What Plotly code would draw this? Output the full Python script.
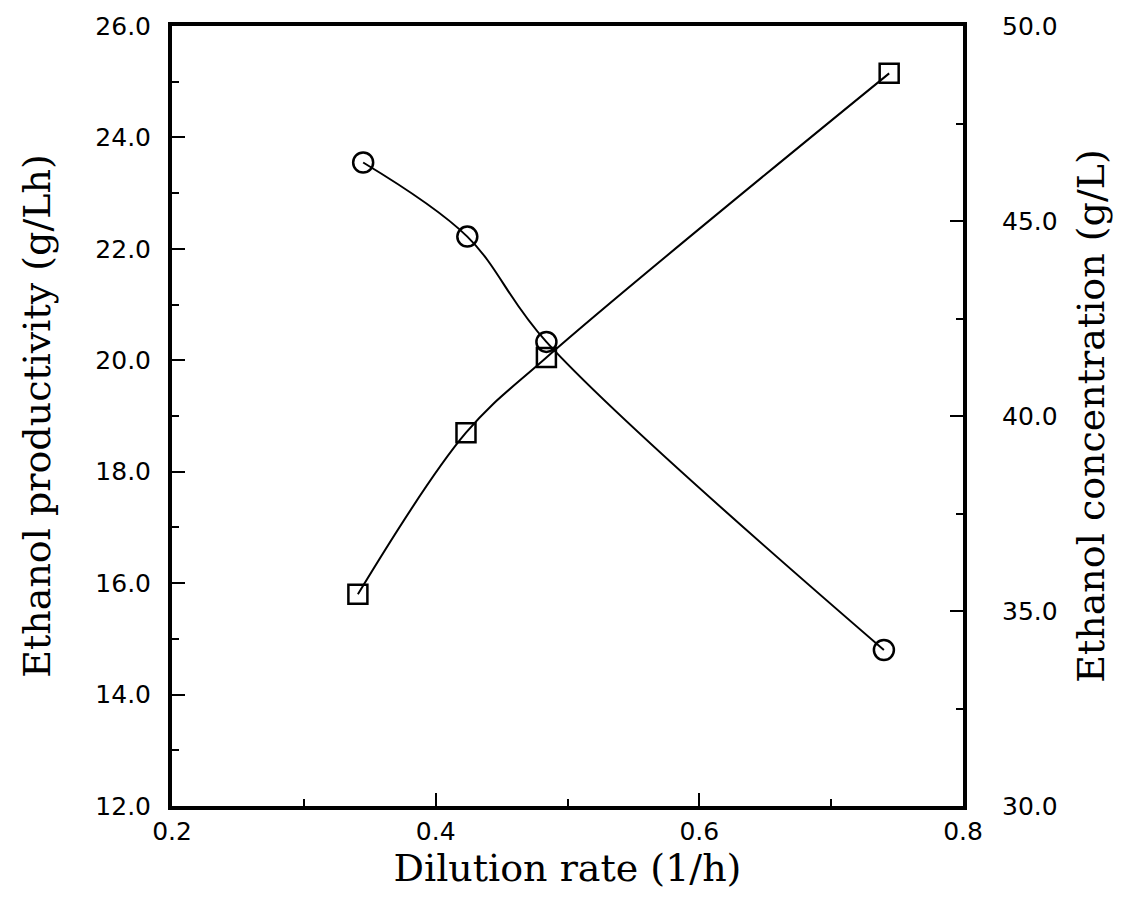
import plotly.graph_objects as go

# Data
dilution_prod = [0.341, 0.423, 0.484, 0.744]
productivity = [15.8, 18.7, 20.05, 25.15]          # g/Lh, left axis, squares

dilution_conc = [0.345, 0.424, 0.484, 0.740]
concentration = [46.5, 44.6, 41.9, 34.0]          # g/L, right axis, circles

x_ticks = [0.2, 0.4, 0.6, 0.8]
y_ticks = [12, 14, 16, 18, 20, 22, 24, 26]
y2_ticks = [30, 35, 40, 45, 50]

TICK_FONT = dict(family="DejaVu Sans", size=25, color="black")
TITLE_FONT = dict(family="DejaVu Serif", size=38, color="black")

fig = go.Figure()
fig.add_trace(go.Scatter(
    x=dilution_prod, y=productivity, mode="lines+markers",
    line=dict(color="black", width=2, shape="spline", smoothing=1),
    marker=dict(symbol="square-open", size=19, color="black",
                line=dict(color="black", width=2.5)),
    yaxis="y", showlegend=False))
fig.add_trace(go.Scatter(
    x=dilution_conc, y=concentration, mode="lines+markers",
    line=dict(color="black", width=2, shape="spline", smoothing=1),
    marker=dict(symbol="circle-open", size=20, color="black",
                line=dict(color="black", width=2.5)),
    yaxis="y2", showlegend=False))

fig.update_layout(
    width=1126, height=910,
    margin=dict(l=172, r=163, t=23, b=104),
    paper_bgcolor="white", plot_bgcolor="white",
    xaxis=dict(
        range=[0.2, 0.8], tickvals=x_ticks, tickformat=".1f",
        showline=True, linewidth=4, linecolor="black", mirror=True,
        ticks="inside", ticklen=13, tickwidth=2, tickcolor="black",
        minor=dict(ticks="inside", ticklen=7, tickwidth=2, dtick=0.1, tickcolor="black"),
        showgrid=False, zeroline=False, tickfont=TICK_FONT,
        ticklabelstandoff=0,
        title=dict(text="Dilution rate (1/h)", font=TITLE_FONT, standoff=0),
    ),
    yaxis=dict(
        range=[12, 26], tickvals=y_ticks, tickformat=".1f",
        showline=True, linewidth=4, linecolor="black", mirror=True,
        ticks="inside", ticklen=13, tickwidth=2, tickcolor="black",
        minor=dict(ticks="inside", ticklen=7, tickwidth=2, dtick=1, tickcolor="black"),
        showgrid=False, zeroline=False, tickfont=TICK_FONT,
        ticklabelstandoff=12,
        title=dict(text="Ethanol productivity (g/Lh)", font=TITLE_FONT, standoff=34),
    ),
    yaxis2=dict(
        range=[30, 50], tickvals=y2_ticks, tickformat=".1f",
        overlaying="y", side="right",
        showline=True, linewidth=4, linecolor="black",
        ticks="inside", ticklen=13, tickwidth=2, tickcolor="black",
        minor=dict(ticks="inside", ticklen=7, tickwidth=2, dtick=2.5, tickcolor="black"),
        showgrid=False, zeroline=False, tickfont=TICK_FONT,
        ticklabelstandoff=30,
        title=dict(text="Ethanol concentration (g/L)", font=TITLE_FONT, standoff=22),
    ),
)

fig.write_html("out.html")
